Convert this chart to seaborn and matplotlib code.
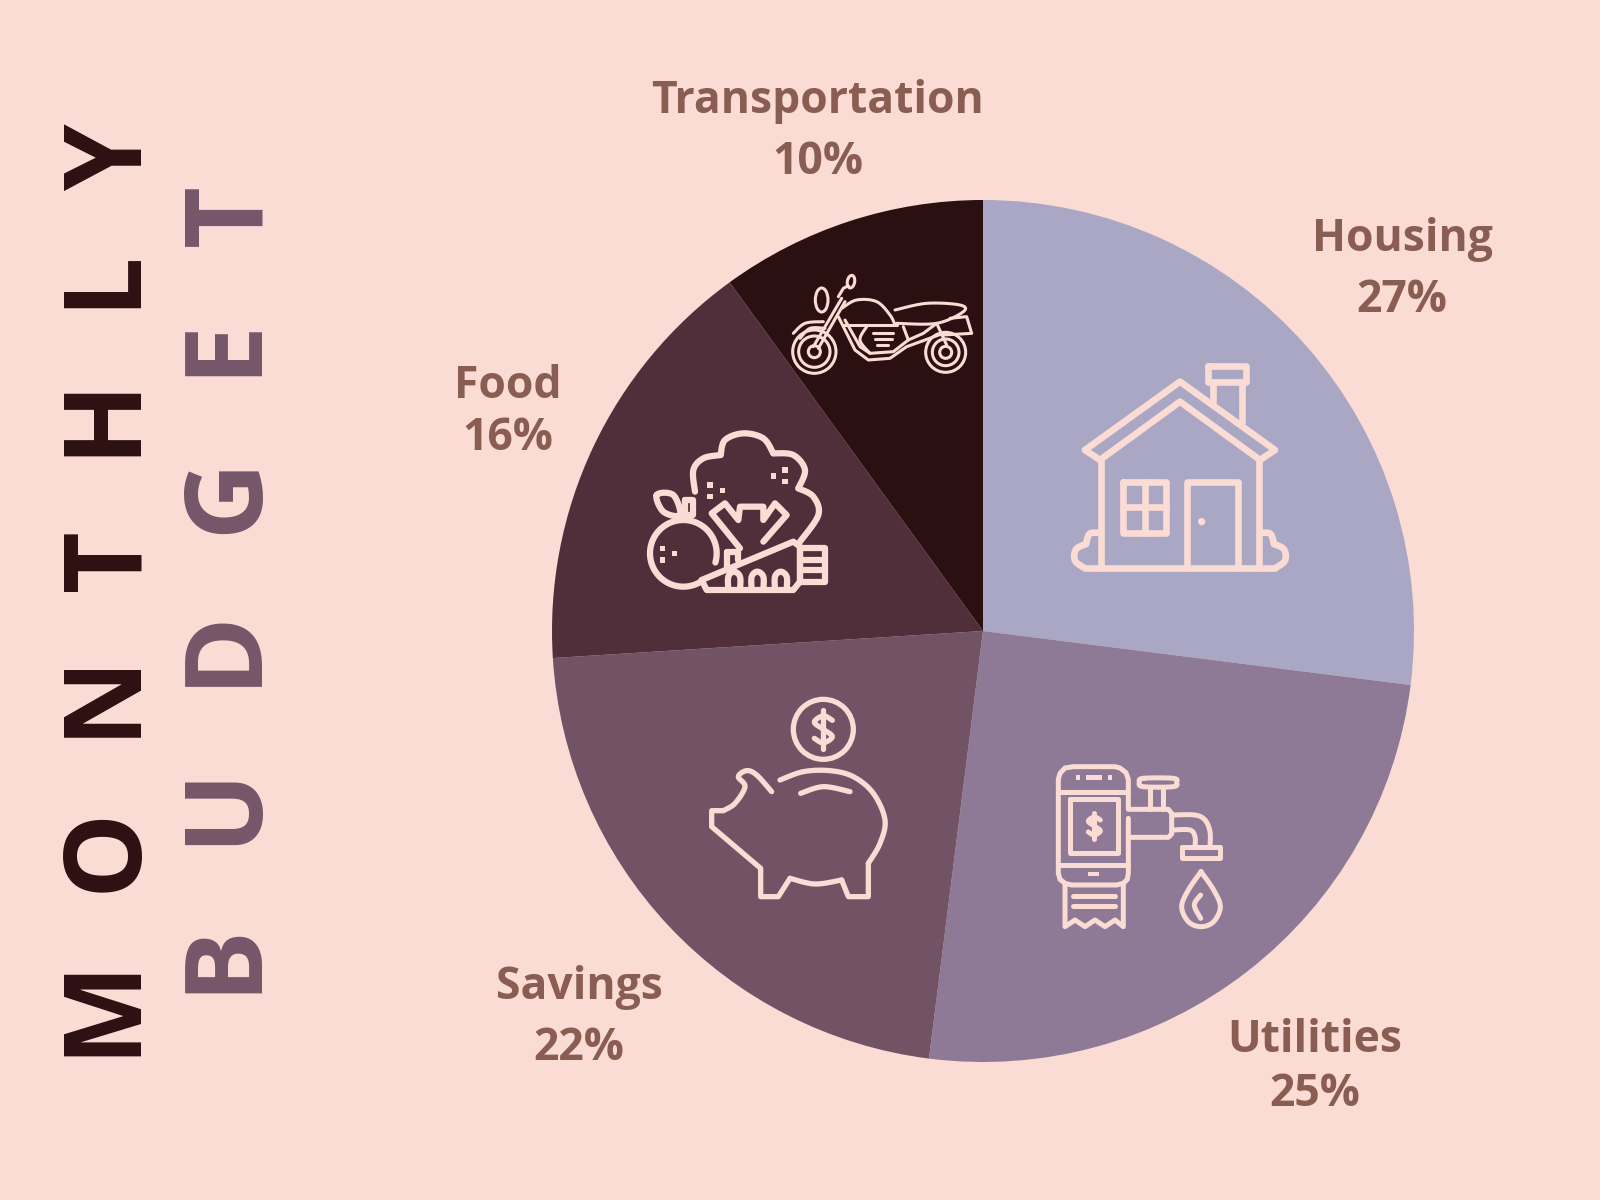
import numpy as np
import matplotlib
matplotlib.use("Agg")
import matplotlib.pyplot as plt
from matplotlib.patches import Circle, Ellipse, Rectangle
import seaborn as sns

categories = ["Housing", "Utilities", "Savings", "Food", "Transportation"]
shares = [27, 25, 22, 16, 10]
slice_colors = ["#AAA7C5", "#8E7A96", "#725366", "#502F3B", "#2B1012"]
label_xy = {"Housing": (1402, 239, 300), "Utilities": (1315, 1041, 1094),
            "Savings": (579, 988, 1049), "Food": (508, 387, 439),
            "Transportation": (818, 102, 163)}
BG = "#FADCD5"
LABEL = "#8A5D52"
FONT = ["Open Sans", "DejaVu Sans"]

sns.set_theme(style="white", rc={"figure.facecolor": BG, "axes.facecolor": BG})
fig = plt.figure(figsize=(16, 12), dpi=100, facecolor=BG)

# pie axes: centre (983,631), radius 431 in pixels
cx, cy, r = 983, 631, 431
pie_ax = fig.add_axes([(cx - r) / 1600, 1 - (cy + r) / 1200, 2 * r / 1600, 2 * r / 1200])
pie_ax.pie(shares, colors=sns.color_palette(slice_colors), startangle=90, counterclock=False,
           radius=1, wedgeprops={"linewidth": 0})
pie_ax.set_xlim(-1, 1)
pie_ax.set_ylim(-1, 1)

ov = fig.add_axes([0, 0, 1, 1], facecolor="none")
ov.set_xlim(0, 1600)
ov.set_ylim(1200, 0)
ov.axis("off")

for name, share in zip(categories, shares):
    x, y1, y2 = label_xy[name]
    ov.text(x, y1, name, ha="center", va="center", fontsize=32, fontweight="bold", family=FONT, color=LABEL)
    ov.text(x, y2, f"{share}%", ha="center", va="center", fontsize=32, fontweight="bold", family=FONT, color=LABEL)

gap1 = "  \u200a"
gap2 = "  \u2009"
ov.text(114, 594, gap1.join("MONTHLY"), rotation=90, ha="center", va="center", fontsize=77,
        fontweight="bold", family=FONT, color="#2D1012")
ov.text(235, 594, gap2.join("BUDGET"), rotation=90, ha="center", va="center", fontsize=77,
        fontweight="bold", family=FONT, color="#75566A")


def spline(pts, closed=False, n=12):
    p = np.array(pts, float)
    if closed:
        p = np.vstack([p[-1], p, p[0], p[1]])
    else:
        p = np.vstack([p[0], p, p[-1]])
    out = []
    for i in range(1, len(p) - 2):
        a, b, c, d = p[i - 1], p[i], p[i + 1], p[i + 2]
        for t in np.linspace(0, 1, n, endpoint=False):
            out.append(0.5 * (2 * b + (c - a) * t + (2 * a - 5 * b + 4 * c - d) * t ** 2 + (3 * b - a - 3 * c + d) * t ** 3))
    out.append(p[-2])
    return np.array(out)


class Icon:
    def __init__(self, ox, oy, lw):
        self.ox, self.oy, self.lw = ox, oy, lw

    def _xy(self, pts):
        p = np.array(pts, float)
        return self.ox + p[:, 0] / 3, self.oy + p[:, 1] / 3

    def line(self, pts, closed=False, lw=None):
        pts = list(pts) + ([pts[0]] if closed else [])
        x, y = self._xy(pts)
        ov.plot(x, y, color=BG, lw=lw or self.lw, solid_joinstyle="round", solid_capstyle="round")

    def curve(self, pts, closed=False, lw=None):
        x, y = self._xy(spline(pts, closed))
        ov.plot(x, y, color=BG, lw=lw or self.lw, solid_joinstyle="round", solid_capstyle="round")

    def rect(self, x0, y0, x1, y1):
        self.line([(x0, y0), (x1, y0), (x1, y1), (x0, y1)], closed=True)

    def circle(self, x, y, rad):
        ov.add_patch(Circle((self.ox + x / 3, self.oy + y / 3), rad / 3, fill=False, ec=BG, lw=self.lw))

    def arc(self, x, y, rad, a0, a1):
        t = np.radians(np.linspace(a0, a1, 80))
        self.line(list(zip(x + rad * np.cos(t), y + rad * np.sin(t))))

    def dot(self, x, y, rad):
        ov.add_patch(Circle((self.ox + x / 3, self.oy + y / 3), rad / 3, fc=BG, ec="none"))

    def square(self, x, y, w, h=None):
        h = h or w
        ov.add_patch(Rectangle((self.ox + (x - w / 2) / 3, self.oy + (y - h / 2) / 3), w / 3, h / 3, fc=BG, ec="none"))

    def ellipse(self, x, y, w, h, angle=0):
        ov.add_patch(Ellipse((self.ox + x / 3, self.oy + y / 3), w / 3, h / 3, angle=angle, fill=False, ec=BG, lw=self.lw))

    def dollar(self, x, y, s, lw=None):
        self.curve([(x + s, y - s), (x, y - 1.5 * s), (x - s, y - 0.8 * s), (x, y), (x + s, y + 0.8 * s), (x, y + 1.5 * s), (x - s, y + s)], lw=lw)
        self.line([(x, y - 2.2 * s), (x, y + 2.2 * s)], lw=lw)


# house
h = Icon(1040, 340, 4.8)
h.line([(135, 330), (420, 125), (705, 330), (660, 360), (420, 185), (180, 360)], closed=True)
h.line([(182, 360), (182, 685)])
h.line([(658, 360), (658, 685)])
h.line([(135, 685), (705, 685)])
h.curve([(172, 578), (148, 582), (138, 612)])
h.curve([(138, 612), (108, 628), (105, 662), (135, 685)])
h.curve([(668, 578), (692, 582), (702, 612)])
h.curve([(702, 612), (732, 628), (735, 662), (705, 685)])
h.rect(505, 78, 618, 125)
h.line([(518, 125), (518, 185)])
h.line([(605, 125), (605, 245)])
h.rect(248, 425, 378, 578)
h.line([(315, 425), (315, 578)])
h.line([(248, 500), (378, 500)])
h.line([(442, 685), (442, 425), (595, 425), (595, 685)])
h.dot(485, 545, 11)

# utilities
u = Icon(1040, 750, 3.6)
u.line([(265, 175), (265, 88), (258, 68), (240, 54), (225, 50), (100, 50), (75, 54), (60, 70), (55, 88), (55, 370), (60, 388), (75, 400), (95, 405),
        (230, 405), (250, 400), (262, 388), (265, 370), (265, 205)])
u.line([(55, 125), (265, 125)])
u.line([(55, 345), (265, 345)])
u.rect(90, 148, 235, 310)
u.dollar(163, 228, 18)
u.square(114, 83, 14)
u.square(162, 83, 46, 14)
u.square(210, 83, 14)
u.square(161, 372, 32, 14)
u.line([(75, 405), (75, 530), (105, 510), (135, 530), (165, 510), (195, 530), (225, 510), (250, 530), (250, 405)])
u.line([(100, 437), (225, 437)])
u.line([(100, 468), (225, 468)])
u.line([(265, 178), (385, 178), (395, 190), (395, 252), (385, 262), (265, 262)])
u.line([(330, 110), (330, 178)])
u.line([(370, 110), (370, 178)])
u.curve([(310, 85), (400, 85), (410, 97), (400, 110), (310, 110), (298, 97)], closed=True)
u.curve([(400, 195), (465, 195), (495, 210), (510, 245), (510, 290)])
u.curve([(400, 240), (450, 240), (465, 260), (465, 290)])
u.rect(425, 292, 540, 325)
u.curve([(483, 365), (445, 420), (425, 470), (445, 515), (483, 530), (521, 515), (541, 470), (521, 420), (483, 365)])
u.curve([(482, 435), (463, 465), (482, 505)])

# piggy bank
s = Icon(690, 680, 3.8)
s.circle(400, 148, 90)
s.dollar(400, 148, 27, lw=3.8)
s.curve([(270, 300), (340, 275), (420, 272), (490, 290), (550, 340), (585, 420), (570, 490), (535, 550)])
s.line([(535, 550), (535, 650), (475, 650), (455, 600)])
s.curve([(455, 600), (375, 612), (300, 595)])
s.line([(300, 595), (265, 650), (212, 650), (212, 565), (65, 440), (65, 392), (100, 392)])
s.curve([(100, 392), (135, 370), (165, 320), (145, 290), (170, 272), (200, 285), (245, 335)])
s.curve([(332, 340), (400, 320), (480, 335)])

# food
f = Icon(630, 420, 4.5)
f.curve([(195, 215), (190, 150), (220, 115), (272, 105)])
f.curve([(272, 105), (285, 60), (340, 40), (400, 55), (430, 100)])
f.curve([(430, 100), (490, 105), (525, 150), (505, 205)])
f.curve([(505, 205), (550, 230), (565, 285), (510, 365)])
f.line([(330, 385), (245, 280), (285, 250), (325, 300), (330, 260), (400, 260), (400, 300), (435, 250), (470, 285), (400, 365)])
f.arc(160, 400, 100, 55, 376)
f.curve([(80, 225), (130, 225), (150, 285), (100, 275)], closed=True)
f.rect(165, 240, 190, 285)
f.line([(290, 395), (325, 395), (325, 420)])
f.line([(290, 395), (290, 445)])
f.line([(215, 480), (490, 365), (510, 380), (510, 485), (490, 510), (230, 510)], closed=True)
for ax0 in (295, 365, 435):
    f.curve([(ax0, 510), (ax0, 470), (ax0 + 17, 455), (ax0 + 35, 470), (ax0 + 35, 510)])
f.rect(510, 383, 585, 485)
f.line([(520, 420), (585, 420)])
f.line([(520, 450), (585, 450)])
for dx, dy in [(240, 195), (277, 212), (240, 230), (430, 168), (465, 150), (465, 185), (97, 385), (133, 400), (97, 420)]:
    f.square(dx, dy, 17)

# motorcycle
m = Icon(780, 265, 2.2)
for x0, y0, rads in [(103, 260, (65, 47, 18)), (497, 262, (60, 40, 18))]:
    for rd in rads:
        m.circle(x0, y0, rd)
m.curve([(40, 205), (75, 175), (130, 170)])
m.curve([(60, 220), (90, 190), (135, 190)])
m.line([(100, 245), (185, 100)])
m.line([(115, 250), (195, 110)])
m.ellipse(125, 105, 38, 72)
m.line([(175, 95), (190, 70), (205, 62)])
m.ellipse(213, 50, 22, 38, angle=10)
m.curve([(185, 130), (230, 105), (290, 110), (330, 150), (345, 180)])
m.line([(190, 180), (350, 180)])
m.curve([(345, 135), (440, 115), (540, 120), (550, 140), (470, 175), (350, 175)])
m.line([(175, 155), (225, 255), (265, 285), (330, 280), (380, 245), (490, 205)])
m.line([(195, 165), (240, 245), (270, 265), (340, 260), (385, 225), (430, 205), (470, 175), (500, 240)])
m.curve([(260, 185), (240, 225), (270, 265)])
m.curve([(370, 185), (385, 225)])
m.line([(280, 205), (340, 205)])
m.line([(285, 222), (335, 222)])
m.line([(292, 240), (325, 240)])
m.line([(490, 210), (575, 205), (560, 155), (510, 160)])

fig.savefig("out.png", dpi=100, facecolor=BG)
